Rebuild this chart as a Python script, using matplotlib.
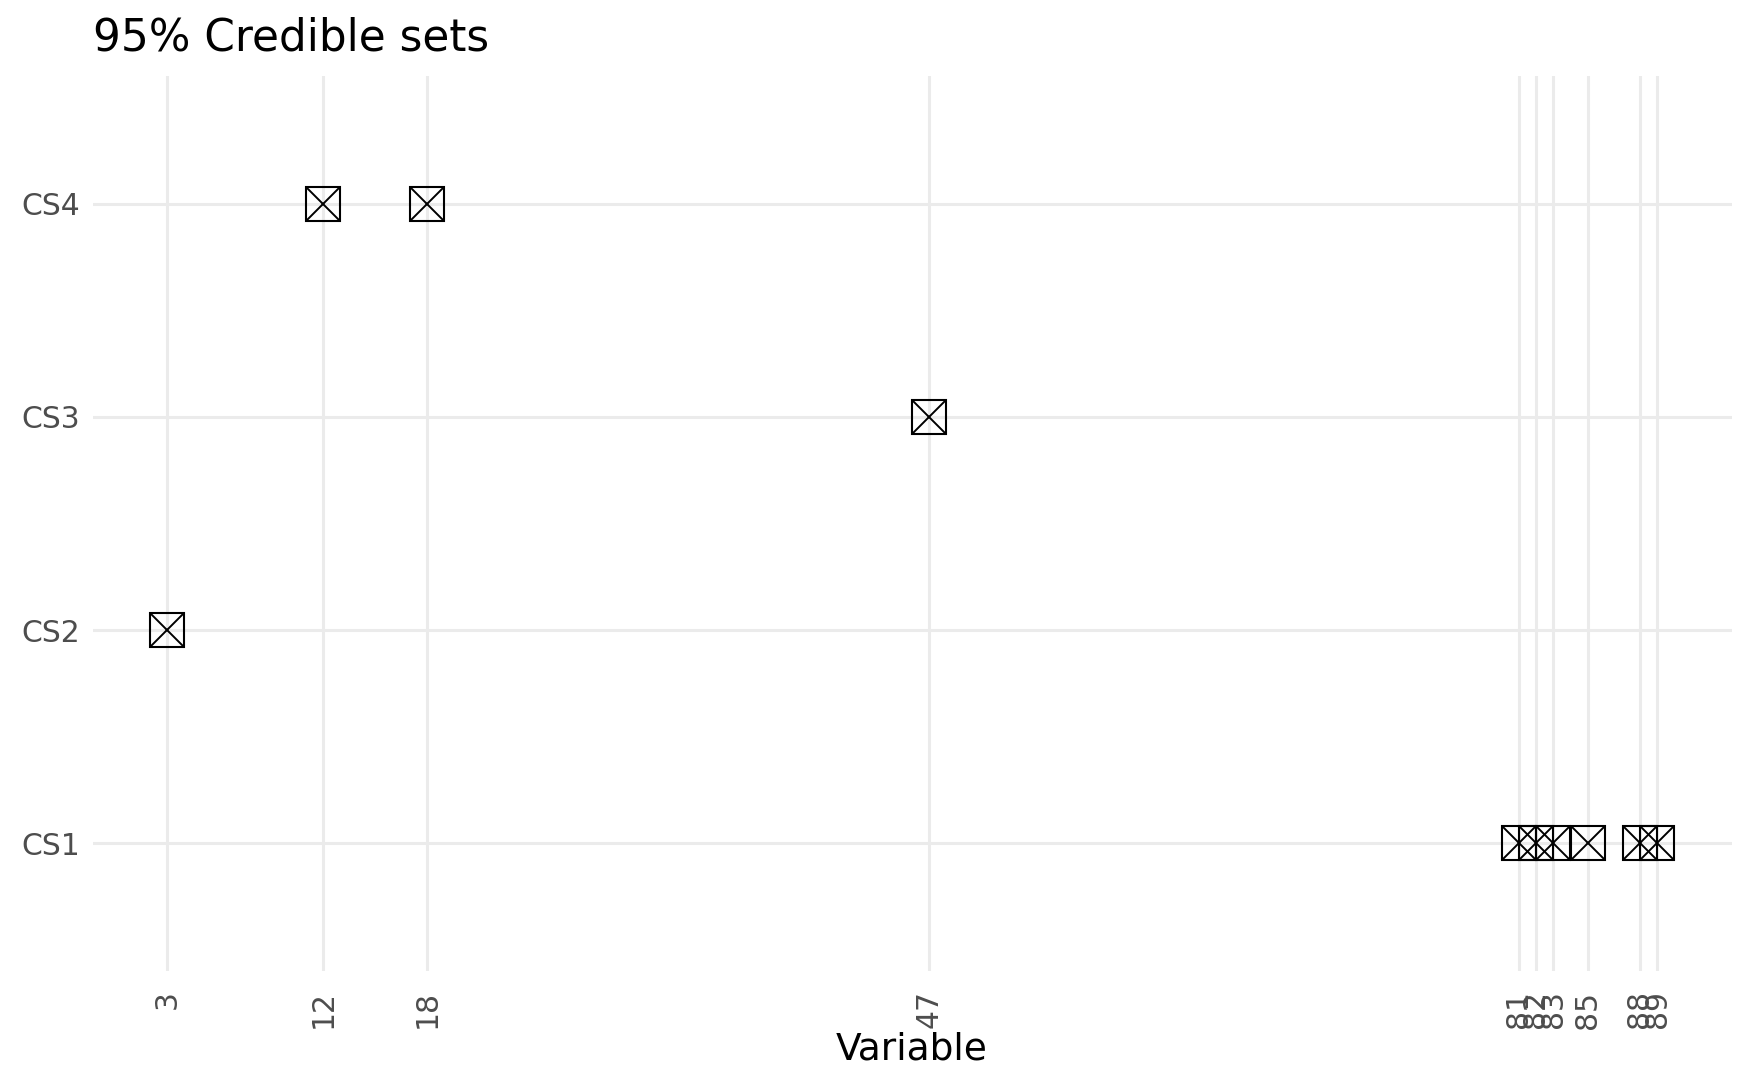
import matplotlib
matplotlib.use("Agg")
import matplotlib.pyplot as plt

# credible set membership
cs_labels = ["CS1", "CS2", "CS3", "CS4"]
cs1_vars = [81, 82, 83, 85, 88, 89]
cs2_vars = [3]
cs3_vars = [47]
cs4_vars = [12, 18]
x_breaks = [3, 12, 18, 47, 81, 82, 83, 85, 88, 89]

plt.rcParams["font.family"] = "DejaVu Sans"

fig = plt.figure(figsize=(17.5, 10.81), dpi=100)
ax = fig.add_axes([0.0529, 0.1018, 0.9366, 0.8279])

grid_col = "#EBEBEB"
for v in x_breaks:
    ax.axvline(v, color=grid_col, lw=2.2, zorder=0)
for i in range(len(cs_labels)):
    ax.axhline(i + 1, color=grid_col, lw=2.2, zorder=0)

groups = [cs1_vars, cs2_vars, cs3_vars, cs4_vars]
for i, vars_ in enumerate(groups):
    ys = [i + 1] * len(vars_)
    ax.plot(vars_, ys, ls="none", marker="s", ms=24.5, mfc="none",
            mec="black", mew=1.5, zorder=3)
    ax.plot(vars_, ys, ls="none", marker="x", ms=24.5,
            mec="black", mew=1.4, zorder=3)

span = max(x_breaks) - min(x_breaks)
ax.set_xlim(min(x_breaks) - 0.05 * span, max(x_breaks) + 0.05 * span)
ax.set_ylim(0.4, len(cs_labels) + 0.6)

ax.set_xticks(x_breaks)
ax.set_xticklabels([str(v) for v in x_breaks], rotation=90)
ax.set_yticks(range(1, len(cs_labels) + 1))
ax.set_yticklabels(cs_labels)
ax.tick_params(axis="both", length=0, labelsize=21.5, labelcolor="#4D4D4D")
ax.tick_params(axis="x", pad=14)
ax.tick_params(axis="y", pad=9)

for s in ax.spines.values():
    s.set_visible(False)

ax.set_xlabel("Variable", fontsize=27, labelpad=2)
ax.set_title("95% Credible sets", fontsize=31.5, loc="left", pad=18)

fig.savefig("out.png", dpi=100, facecolor="white")
